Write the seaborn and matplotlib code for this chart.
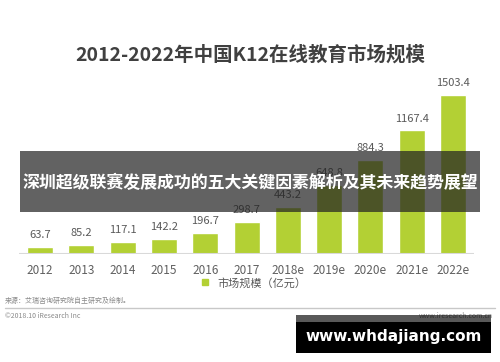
import matplotlib
matplotlib.use("Agg")
import matplotlib.pyplot as plt
import seaborn as sns
import pandas as pd
from matplotlib.patches import Rectangle
from matplotlib.lines import Line2D

years = ["2012", "2013", "2014", "2015", "2016", "2017", "2018e", "2019e", "2020e", "2021e", "2022e"]
market = [63.7, 85.2, 117.1, 142.2, 196.7, 298.7, 443.2, 648.8, 884.3, 1167.4, 1503.4]
title = "2012-2022年中国K12在线教育市场规模"
legend_label = "市场规模（亿元）"
source_text = "来源：艾瑞咨询研究院自主研究及绘制。"
copyright_text = "©2018.10 iResearch Inc"
site_text = "www.iresearch.com.cn"
banner_text = "深圳超级联赛发展成功的五大关键因素解析及其未来趋势展望"
watermark_text = "www.whdajiang.com"

sns.set_style("white")
plt.rcParams["font.family"] = ["Noto Sans CJK SC", "DejaVu Sans"]

W, H = 500, 362
fig = plt.figure(figsize=(W / 100, H / 100), dpi=100)
fig.patch.set_facecolor("white")

def fx(px):
    return px / W

def fy(py):
    return 1 - py / H

ax = fig.add_axes([fx(19.35), fy(254), fx(473.7) - fx(19.35), (254 - 84.7) / H])
df = pd.DataFrame({"year": years, "value": market})
bar_color = "#B3D034"
sns.barplot(data=df, x="year", y="value", color=bar_color, width=0.63,
            saturation=1, ax=ax, zorder=2)
ax.set_xlim(-0.5, len(years) - 0.5)
ax.set_ylim(0, 1600)
for s in ax.spines.values():
    s.set_visible(False)
ax.set_yticks([])
ax.set_xlabel("")
ax.set_ylabel("")
ax.tick_params(axis="x", length=0, pad=7, labelsize=8.5, labelcolor="#606060")
ax.axhline(0, color="#d9d9d9", linewidth=1.5, zorder=3)
for i, v in enumerate(market):
    ax.annotate(f"{v:.1f}", (i, v), xytext=(0, 5), textcoords="offset points",
                ha="center", va="bottom", fontsize=8, color="#595959")

fig.text(0.5, fy(55), title, ha="center", va="center", fontsize=14,
         fontweight="bold", color="#404040")

handle = Line2D([], [], marker="s", linestyle="none", markersize=5,
                markerfacecolor=bar_color, markeredgecolor=bar_color)
fig.legend([handle], [legend_label], loc="center", bbox_to_anchor=(0.5, fy(283)),
           frameon=False, fontsize=8, handletextpad=0.1, labelcolor="#595959")

fig.text(fx(5), fy(301), source_text, ha="left", va="center", fontsize=5, color="#8a8a8a")
fig.add_artist(Line2D([fx(5), fx(495)], [fy(308), fy(308)], color="#c8c8c8", linewidth=1))
fig.text(fx(5), fy(316), copyright_text, ha="left", va="center", fontsize=5, color="#8a8a8a")
fig.text(fx(493), fy(316), site_text, ha="right", va="center", fontsize=5, color="#8a8a8a")

# overlays
fig.add_artist(Rectangle((fx(20), fy(212)), fx(480) - fx(20), (212 - 151) / H,
                         transform=fig.transFigure, facecolor="#222222", alpha=0.71,
                         edgecolor="none", zorder=10))
fig.text(0.5, fy(183), banner_text, ha="center", va="center", fontsize=12.2,
         fontweight="bold", color="white", zorder=11)

fig.add_artist(Rectangle((fx(296), fy(322)), fx(491) - fx(296), (322 - 315) / H,
                         transform=fig.transFigure, facecolor="#000000", alpha=0.65,
                         edgecolor="none", zorder=10))
fig.add_artist(Rectangle((fx(296), fy(353)), fx(491) - fx(296), (353 - 322) / H,
                         transform=fig.transFigure, facecolor="#000000",
                         edgecolor="none", zorder=10))
fig.text(fx(394), fy(337), watermark_text, ha="center", va="center", fontsize=11,
         fontweight="bold", color="white", family=["DejaVu Sans"], zorder=11)

fig.savefig("out.png", dpi=100, facecolor="white")
